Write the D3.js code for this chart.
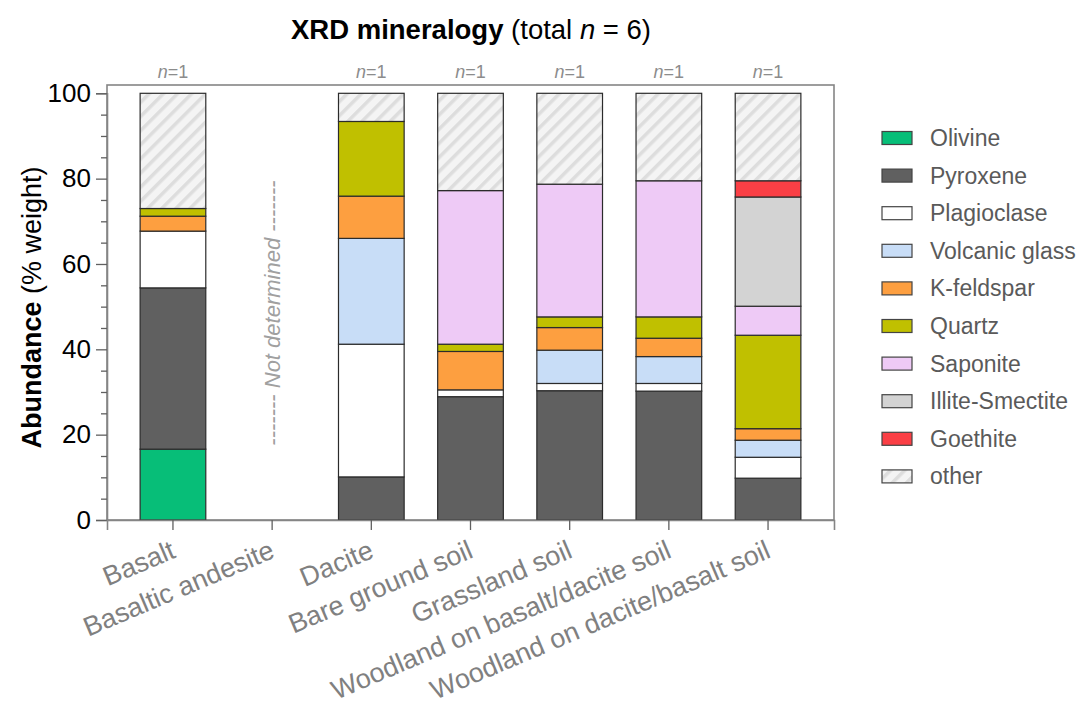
<!DOCTYPE html>
<html>
<head>
<meta charset="utf-8">
<script src="https://cdn.jsdelivr.net/npm/d3@7"></script>
<style>
  html, body { margin: 0; padding: 0; background: #fff; }
  svg { display: block; font-family: "Liberation Sans", Arial, Helvetica, sans-serif; }
</style>
</head>
<body>
<svg id="chart" width="1082" height="702"></svg>
<script>
// Sample groups along the x axis
const categories = [
  "Basalt",
  "Basaltic andesite",
  "Dacite",
  "Bare ground soil",
  "Grassland soil",
  "Woodland on basalt/dacite soil",
  "Woodland on dacite/basalt soil"
];

// Number of samples per group (null = not determined)
const sampleCounts = [1, null, 1, 1, 1, 1, 1];

// Mineral phases, bottom to top of each stack
const minerals = ["Olivine", "Pyroxene", "Plagioclase", "Volcanic glass", "K-feldspar",
                  "Quartz", "Saponite", "Illite-Smectite", "Goethite", "other"];

// Abundances (% weight) per group; null = not determined
const olivine        = [16.6, null, 0,    0,    0,    0,    0];
const pyroxene       = [37.8, null, 10.1, 28.9, 30.3, 30.2, 9.8];
const plagioclase    = [13.3, null, 31.1, 1.6,  1.7,  1.8,  4.9];
const volcanicGlass  = [0,    null, 24.8, 0,    7.8,  6.3,  4.0];
const kFeldspar      = [3.5,  null, 9.9,  9.0,  5.3,  4.3,  2.7];
const quartz         = [1.8,  null, 17.5, 1.7,  2.5,  5.0,  21.9];
const saponite       = [0,    null, 0,    36.0, 31.1, 31.9, 6.8];
const illiteSmectite = [0,    null, 0,    0,    0,    0,    25.6];
const goethite       = [0,    null, 0,    0,    0,    0,    3.8];
const other          = [27.0, null, 6.6,  22.8, 21.3, 20.5, 20.5];

const yTicks = [0, 20, 40, 60, 80, 100];

const seriesValues = [olivine, pyroxene, plagioclase, volcanicGlass, kFeldspar,
                      quartz, saponite, illiteSmectite, goethite, other];

const colors = {
  "Olivine": "#07be78",
  "Pyroxene": "#606060",
  "Plagioclase": "#ffffff",
  "Volcanic glass": "#c8ddf7",
  "K-feldspar": "#fd9f40",
  "Quartz": "#c0c000",
  "Saponite": "#eecaf6",
  "Illite-Smectite": "#d3d3d3",
  "Goethite": "#fa3f45",
  "other": "url(#hatch)"
};

// Table of rows for d3.stack
const rows = categories.map((c, i) => {
  const r = { category: c, missing: seriesValues[0][i] === null };
  minerals.forEach((m, k) => { r[m] = seriesValues[k][i] || 0; });
  return r;
});

const svg = d3.select("#chart");
const plot = { left: 107, right: 834, top: 85, bottom: 520 };

// hatch pattern for "other"
const defs = svg.append("defs");
const pat = defs.append("pattern")
  .attr("id", "hatch")
  .attr("patternUnits", "userSpaceOnUse")
  .attr("width", 10).attr("height", 10)
  .attr("patternTransform", "rotate(45)");
pat.append("rect").attr("width", 10).attr("height", 10).attr("fill", "#f4f4f4");
pat.append("rect").attr("x", 0).attr("y", 0).attr("width", 3.5).attr("height", 10).attr("fill", "#dddddd");

const x = d3.scaleBand()
  .domain(categories)
  .range([plot.left, plot.right])
  .paddingInner(0.338)
  .paddingOuter(0.334);

const y = d3.scaleLinear()
  .domain([0, 100])
  .range([plot.bottom, 93.3]);

// plot frame
svg.append("rect")
  .attr("x", plot.left).attr("y", plot.top)
  .attr("width", plot.right - plot.left).attr("height", plot.bottom - plot.top)
  .attr("fill", "none").attr("stroke", "#858585").attr("stroke-width", 1.6);

// stacked bars
const stacked = d3.stack().keys(minerals)(rows);
const layers = svg.append("g").selectAll("g")
  .data(stacked).join("g")
  .attr("fill", d => colors[d.key]);

layers.selectAll("rect")
  .data(d => d.filter(s => !s.data.missing && s[1] - s[0] > 0))
  .join("rect")
  .attr("x", d => x(d.data.category))
  .attr("width", x.bandwidth())
  .attr("y", d => y(d[1]))
  .attr("height", d => y(d[0]) - y(d[1]))
  .attr("stroke", "#2b2b2b")
  .attr("stroke-width", 1.2);

// y axis
const yAxis = svg.append("g")
  .attr("transform", `translate(${plot.left},0)`)
  .call(d3.axisLeft(y).tickValues(yTicks).tickSize(11).tickPadding(5).tickFormat(d3.format("d")));
yAxis.select(".domain").attr("stroke", "#858585").attr("stroke-width", 1.6);
yAxis.selectAll(".tick line").attr("stroke", "#606060").attr("stroke-width", 1.3);
yAxis.selectAll(".tick text").attr("font-size", 26).attr("fill", "#000")
  .attr("font-family", "Liberation Sans, Arial, sans-serif");

const yMinor = svg.append("g")
  .attr("transform", `translate(${plot.left},0)`)
  .call(d3.axisLeft(y).tickValues(d3.range(0, 101, 5).filter(v => v % 20 !== 0)).tickSize(6).tickFormat(""));
yMinor.select(".domain").remove();
yMinor.selectAll(".tick line").attr("stroke", "#606060").attr("stroke-width", 1.3);

// x axis
const xAxis = svg.append("g")
  .attr("transform", `translate(0,${plot.bottom})`)
  .call(d3.axisBottom(x).tickSize(10).tickFormat(""));
xAxis.select(".domain").attr("stroke", "#858585").attr("stroke-width", 1.6);
xAxis.selectAll(".tick line").attr("stroke", "#606060").attr("stroke-width", 1.3);

// x labels, rotated
svg.append("g").selectAll("text")
  .data(categories).join("text")
  .attr("transform", d => `translate(${x(d) + x.bandwidth() / 2 + 4},${plot.bottom + 37}) rotate(-23)`)
  .attr("text-anchor", "end")
  .attr("font-size", 27)
  .attr("fill", "#808080")
  .text(d => d);

// sample counts above bars
const nLabels = svg.append("g").selectAll("text")
  .data(categories.map((c, i) => ({ c, n: sampleCounts[i] })).filter(d => d.n !== null))
  .join("text")
  .attr("x", d => x(d.c) + x.bandwidth() / 2)
  .attr("y", 78)
  .attr("text-anchor", "middle")
  .attr("font-size", 18)
  .attr("fill", "#8c8c8c");
nLabels.append("tspan").attr("font-style", "italic").text("n");
nLabels.append("tspan").text(d => "=" + d.n);

// groups without data
categories.forEach((c, i) => {
  if (sampleCounts[i] === null) {
    svg.append("text")
      .attr("transform", `translate(${x(c) + x.bandwidth() / 2 + 8},${y(48.5)}) rotate(-90)`)
      .attr("text-anchor", "middle")
      .attr("font-size", 22)
      .attr("font-style", "italic")
      .attr("fill", "#a0a0a0")
      .text("------- Not determined -------");
  }
});

// y axis title
const yTitle = svg.append("text")
  .attr("transform", `translate(41,${(plot.top + plot.bottom) / 2 + 5}) rotate(-90)`)
  .attr("text-anchor", "middle")
  .attr("font-size", 27)
  .attr("fill", "#000");
yTitle.append("tspan").attr("font-weight", "bold").text("Abundance");
yTitle.append("tspan").text(" (% weight)");

// chart title
const title = svg.append("text")
  .attr("x", 471).attr("y", 39)
  .attr("text-anchor", "middle")
  .attr("font-size", 27.5)
  .attr("fill", "#000");
title.append("tspan").attr("font-weight", "bold").text("XRD mineralogy");
title.append("tspan").text(" (total ");
title.append("tspan").attr("font-style", "italic").text("n");
title.append("tspan").text(" = 6)");

// legend
const legend = svg.append("g").attr("transform", "translate(882,138)");
const item = legend.selectAll("g")
  .data(minerals).join("g")
  .attr("transform", (d, i) => `translate(0,${i * 37.6})`);
item.append("rect")
  .attr("x", 0).attr("y", -6.5)
  .attr("width", 30).attr("height", 13)
  .attr("fill", d => colors[d])
  .attr("stroke", "#444").attr("stroke-width", 1.2);
item.append("text")
  .attr("x", 48).attr("y", 8)
  .attr("font-size", 23)
  .attr("fill", "#5a5a5a")
  .text(d => d);
</script>
</body>
</html>
